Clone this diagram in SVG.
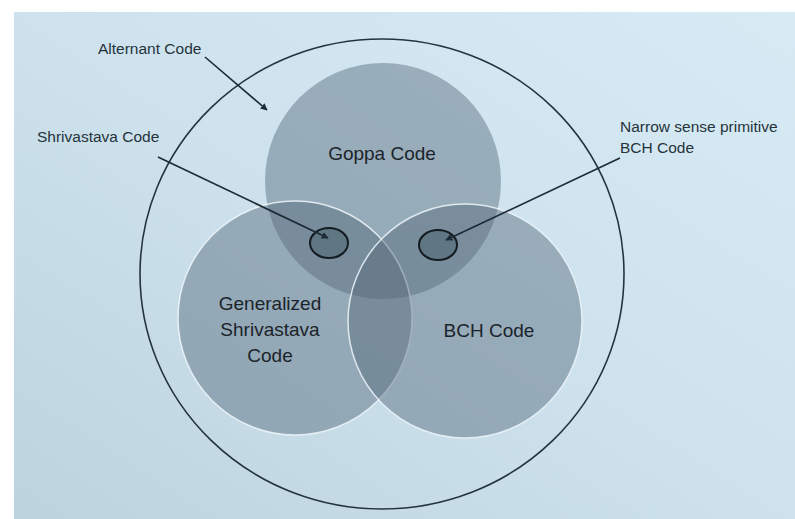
<svg xmlns="http://www.w3.org/2000/svg" width="795" height="519" viewBox="0 0 795 519">
  <defs>
    <linearGradient id="paper" x1="1" y1="0" x2="0" y2="1">
      <stop offset="0" stop-color="#d7ebf5"/>
      <stop offset="0.5" stop-color="#cde2ed"/>
      <stop offset="1" stop-color="#bdd3de"/>
    </linearGradient>
    <marker id="arrow" viewBox="0 0 10 10" refX="9" refY="5" markerWidth="7" markerHeight="7" orient="auto" markerUnits="userSpaceOnUse">
      <path d="M0,0 L10,5 L0,10 z" fill="#1c2a33"/>
    </marker>
    <style>
      .set { fill: #55697a; fill-opacity: 0.45; }
      .edge { fill: none; stroke: #eef6fa; stroke-width: 1.5; stroke-opacity: 0.85; }
      .sub { fill: #4f6470; fill-opacity: 0.55; stroke: #141c22; stroke-width: 2; }
      .big { font-family: "Liberation Sans", Arial, sans-serif; font-size: 19px; fill: #1b242a; text-anchor: middle; }
      .small { font-family: "Liberation Sans", Arial, sans-serif; font-size: 15.5px; fill: #26333b; }
      .conn { stroke: #1c2a33; stroke-width: 1.6; fill: none; marker-end: url(#arrow); }
    </style>
  </defs>

  <rect x="0" y="0" width="795" height="519" fill="#ffffff"/>
  <rect x="14" y="12" width="781" height="507" fill="url(#paper)"/>

  <g id="alternant">
    <ellipse cx="382" cy="274" rx="242" ry="235" fill="none" stroke="#24343e" stroke-width="1.6"/>
    <text class="small" x="98" y="54">Alternant Code</text>
  </g>

  <g id="goppa">
    <circle class="set" cx="383" cy="181" r="118"/>
    <text class="big" x="382" y="160">Goppa Code</text>
  </g>

  <g id="generalized-shrivastava">
    <circle class="set" cx="295" cy="318" r="117"/>
    <circle class="edge" cx="295" cy="318" r="117"/>
    <text class="big" x="270" y="310">Generalized</text>
    <text class="big" x="270" y="336">Shrivastava</text>
    <text class="big" x="270" y="362">Code</text>
  </g>

  <g id="bch">
    <circle class="set" cx="465" cy="321" r="117"/>
    <circle class="edge" cx="465" cy="321" r="117"/>
    <text class="big" x="489" y="337">BCH Code</text>
  </g>

  <g id="shrivastava">
    <ellipse class="sub" cx="329" cy="243" rx="19" ry="15"/>
    <text class="small" x="37" y="142">Shrivastava Code</text>
  </g>

  <g id="narrow-sense-bch">
    <ellipse class="sub" cx="438" cy="245" rx="19" ry="15"/>
    <text class="small" x="620" y="132">Narrow sense primitive</text>
    <text class="small" x="620" y="153">BCH Code</text>
  </g>

  <g id="connectors">
    <line class="conn" x1="205" y1="57" x2="267" y2="110"/>
    <line class="conn" x1="158" y1="157" x2="328" y2="238"/>
    <line class="conn" x1="620" y1="158" x2="446" y2="240"/>
  </g>
</svg>
